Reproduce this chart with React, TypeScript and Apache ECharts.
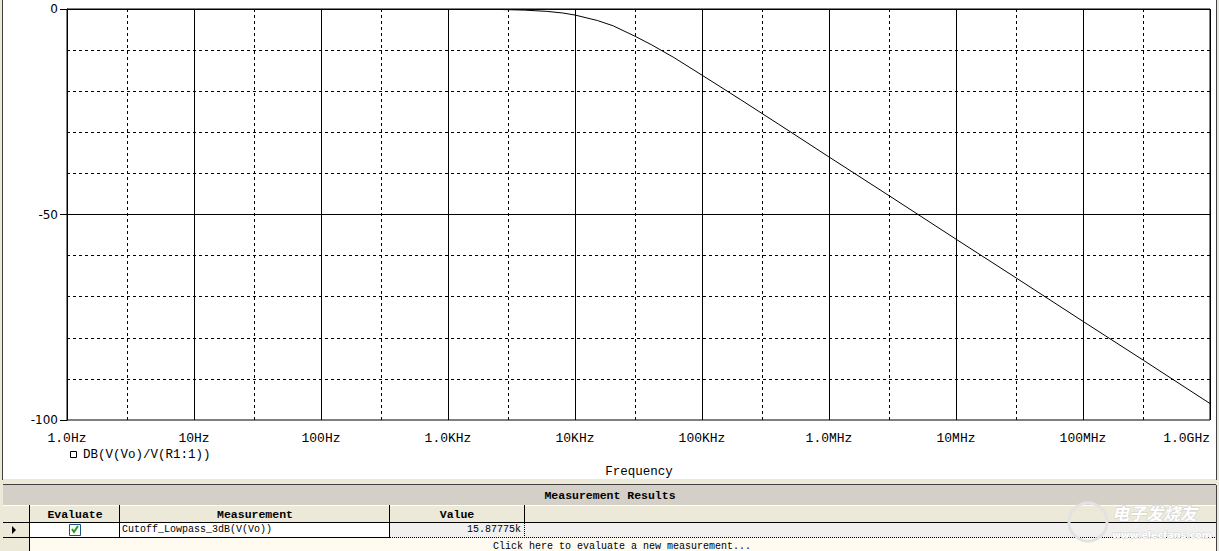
import React, { useEffect, useRef } from "react";
import * as echarts from "echarts";

// ---- data ----
const freqHz = [2600, 4000, 6000, 8000, 10000, 15000, 20000, 30000, 40000, 60000, 100000, 200000, 400000, 1e6, 3e6, 1e7, 3e7, 1e8, 3e8, 1e9];
const gainDb = [-0.12, -0.27, -0.58, -0.97, -1.47, -2.8, -4.1, -6.7, -8.7, -11.8, -16.1, -22.0, -28.0, -36.0, -45.5, -56.0, -65.5, -76.0, -85.5, -96.0];
const xTickLabels = ["1.0Hz", "10Hz", "100Hz", "1.0KHz", "10KHz", "100KHz", "1.0MHz", "10MHz", "100MHz", "1.0GHz"];
const yTickValues = [0, -50, -100];
const dashedFreqLines = [3, 30, 300, 3000, 30000, 300000, 3e6, 3e7, 3e8];
const dashedDbLines = [-10, -20, -30, -40, -60, -70, -80, -90];
const solidDbLines = [-50];
const traceName = "DB(V(Vo)/V(R1:1))";
const xAxisTitle = "Frequency";
const tableTitle = "Measurement Results";
const tableHeaders = ["Evaluate", "Measurement", "Value"];
const measurementName = "Cutoff_Lowpass_3dB(V(Vo))";
const measurementValue = "15.87775k";
const newMeasurementText = "Click here to evaluate a new measurement...";

const MONO = '"Liberation Mono", "DejaVu Sans Mono", monospace';

export default function App() {
  const ref = useRef<HTMLDivElement>(null);

  useEffect(() => {
    if (!ref.current) return;
    const chart = echarts.init(ref.current, null, { renderer: "svg" });

    const line = (x1: number, y1: number, x2: number, y2: number, stroke: string, dash?: number[]) => ({
      type: "line",
      shape: { x1, y1, x2, y2 },
      style: { stroke, lineWidth: 1, lineDash: dash },
      silent: true,
      z: 5,
    });
    const rect = (x: number, y: number, width: number, height: number, fill: string, z = 1) => ({
      type: "rect",
      shape: { x, y, width, height },
      style: { fill },
      silent: true,
      z,
    });
    const text = (t: string, x: number, y: number, font: string, align = "left", fill = "#000") => ({
      type: "text",
      x,
      y,
      style: { text: t, font, fill, textAlign: align, textVerticalAlign: "middle" },
      silent: true,
      z: 6,
    });

    const graphics: any[] = [
      // plot window background
      rect(3, 0, 1213, 479, "#ffffff", -10),
      line(2.5, 0, 2.5, 480, "#404040"),
      line(1216.5, 0, 1216.5, 480, "#404040"),
      // legend
      { type: "rect", shape: { x: 70.5, y: 451.5, width: 6, height: 6 }, style: { fill: "none", stroke: "#000", lineWidth: 1 }, silent: true, z: 6 },
      text(traceName, 83, 455, `12.5px ${MONO}`),
      text(xAxisTitle, 639, 472, `12.5px ${MONO}`, "center"),
      // table area
      line(3, 484.5, 1216, 484.5, "#404040"),
      rect(3, 485, 1213, 20, "#d4d0c8"),
      text(tableTitle, 610, 495, `bold 11.5px ${MONO}`, "center"),
      rect(3, 505, 1213, 17, "#ece9d8"),
      line(3, 505.5, 1216, 505.5, "#ffffff"),
      line(3, 522.5, 1216, 522.5, "#000000"),
      text(tableHeaders[0], 75, 514, `bold 11.5px ${MONO}`, "center"),
      text(tableHeaders[1], 255, 514, `bold 11.5px ${MONO}`, "center"),
      text(tableHeaders[2], 457, 514, `bold 11.5px ${MONO}`, "center"),
      // row 1
      rect(3, 523, 27, 14, "#ece9d8"),
      rect(30, 523, 360, 14, "#ffffff"),
      rect(390, 523, 826, 14, "#f1f0ee"),
      { type: "polygon", shape: { points: [[12, 526], [12, 534], [16, 530]] }, style: { fill: "#000" }, silent: true, z: 6 },
      { type: "rect", shape: { x: 69.5, y: 524.5, width: 11, height: 11 }, style: { fill: "#ffffff", stroke: "#1c5180", lineWidth: 1 }, silent: true, z: 6 },
      { type: "polyline", shape: { points: [[72, 529], [74, 532], [78, 526]] }, style: { stroke: "#21a121", lineWidth: 2, fill: "none" }, silent: true, z: 7 },
      text(measurementName, 122, 529, `10px ${MONO}`),
      text(measurementValue, 521, 529, `10px ${MONO}`, "right"),
      line(3, 537.5, 390, 537.5, "#000000"),
      line(390, 537.5, 1216, 537.5, "#000000", [1, 1]),
      // row 2
      rect(3, 538, 27, 13, "#ece9d8"),
      rect(30, 538, 1186, 13, "#fffbf0"),
      text(newMeasurementText, 493, 546, `10px ${MONO}`),
      // column separators
      line(29.5, 505, 29.5, 551, "#000000"),
      line(119.5, 505, 119.5, 537, "#000000"),
      line(389.5, 505, 389.5, 537, "#000000"),
      line(524.5, 505, 524.5, 522, "#000000"),
      line(524.5, 523, 524.5, 537, "#000000", [1, 1]),
      line(1216.5, 485, 1216.5, 551, "#404040"),
      // watermark
      { type: "circle", shape: { cx: 1088, cy: 522, r: 19 }, style: { fill: "none", stroke: "#e2e2e2", lineWidth: 3 }, silent: true, z: 8 },
      { type: "text", x: 1112, y: 512, style: { text: "电子发烧友", font: 'italic bold 17px "Noto Sans CJK SC"', fill: "#ffffff", stroke: "#cfcfcf", lineWidth: 1, textVerticalAlign: "middle" }, silent: true, z: 8 },
      { type: "text", x: 1112, y: 534, style: { text: "www.elecfans.com", font: 'bold 9.5px "DejaVu Sans"', fill: "#ffffff", stroke: "#cfcfcf", lineWidth: 0.8, textVerticalAlign: "middle" }, silent: true, z: 8 },
    ];

    const markData: any[] = [
      ...dashedFreqLines.map((f) => ({ xAxis: f, lineStyle: { type: [3, 3], color: "#000", width: 1 } })),
      ...dashedDbLines.map((d) => ({ yAxis: d, lineStyle: { type: [3, 3], color: "#000", width: 1 } })),
      ...solidDbLines.map((d) => ({ yAxis: d, lineStyle: { type: "solid", color: "#000", width: 1 } })),
    ];

    chart.setOption({
      animation: false,
      backgroundColor: "#ece9d8",
      grid: {
        left: 67,
        right: 9,
        top: 9,
        bottom: 131,
        show: true,
        backgroundColor: "#ffffff",
        borderColor: "#000000",
        borderWidth: 1,
        containLabel: false,
        outerBoundsMode: "none",
      },
      xAxis: {
        type: "log",
        logBase: 10,
        min: 1,
        max: 1e9,
        splitNumber: 9,
        axisLine: { show: true, lineStyle: { color: "#000", width: 1 } },
        axisTick: { show: true, length: 5, lineStyle: { color: "#000" } },
        axisLabel: {
          show: true,
          margin: 12,
          color: "#000",
          fontFamily: MONO,
          fontSize: 13,
          showMinLabel: true,
          showMaxLabel: true,
          alignMaxLabel: "right",
          formatter: (v: number) => xTickLabels[Math.round(Math.log10(v))] ?? "",
        },
        splitLine: { show: true, lineStyle: { color: "#000", width: 1, type: "solid" } },
      },
      yAxis: {
        type: "value",
        min: -100,
        max: 0,
        interval: 10,
        axisLine: { show: true, lineStyle: { color: "#000", width: 1 } },
        axisTick: { show: true, length: 7, customValues: yTickValues, lineStyle: { color: "#000" } },
        axisLabel: {
          show: true,
          margin: 9,
          color: "#000",
          fontFamily: '"DejaVu Sans", sans-serif',
          fontSize: 12,
          customValues: yTickValues,
          formatter: (v: number) => String(v),
        },
        splitLine: { show: false },
      },
      series: [
        {
          type: "line",
          name: traceName,
          data: freqHz.map((f, i) => [f, gainDb[i]]),
          showSymbol: false,
          smooth: false,
          lineStyle: { color: "#000", width: 1 },
          z: 3,
          markLine: {
            silent: true,
            symbol: ["none", "none"],
            label: { show: false },
            data: markData,
            z: 1,
          },
        },
      ],
      graphic: { elements: graphics },
    });

    return () => chart.dispose();
  }, []);

  return (
    <div
      ref={ref}
      style={{ position: "absolute", left: 0, top: 0, width: 1219, height: 551 }}
    />
  );
}
